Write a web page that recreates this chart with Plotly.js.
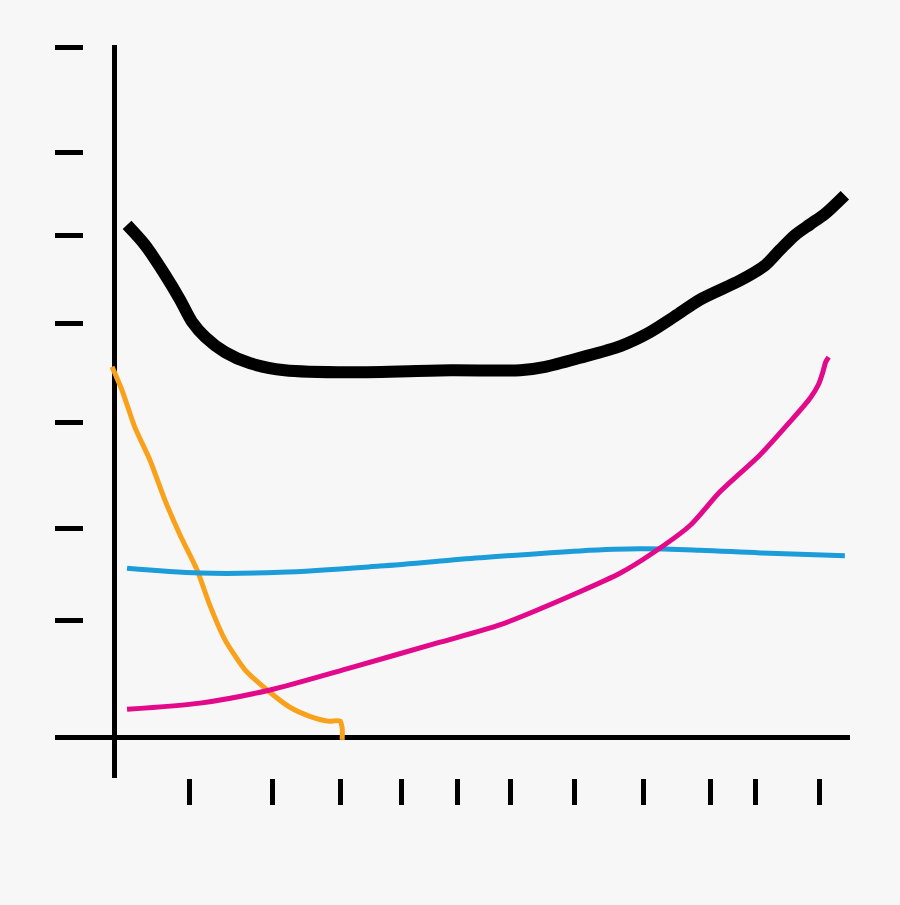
<!DOCTYPE html>
<html>
<head>
<meta charset="utf-8">
<script src="https://cdn.plot.ly/plotly-3.0.1.min.js"></script>
<style>
  html, body { margin: 0; padding: 0; background: #f7f7f7; }
  #chart { width: 900px; height: 905px; }
</style>
</head>
<body>
<div id="chart"></div>
<script>
// Thick black series
const blackX = [1.77, 4.21, 6.93, 8.97, 10.6, 12.4, 15.1, 18.5, 23.2, 32.1, 45.7, 55.2, 58.6, 63.3, 68.8, 72.8, 76.2, 79.6, 85.1, 88.5, 90.5, 92.5, 94.6, 96.6, 99.3];
const blackY = [74.0, 71.1, 66.8, 63.2, 60.0, 57.8, 55.6, 54.0, 53.0, 52.7, 53.0, 53.0, 53.5, 54.8, 56.5, 58.5, 60.8, 63.2, 66.0, 68.2, 70.4, 72.5, 74.1, 75.6, 78.3];

// Orange series
const orangeX = [-0.27, 1.09, 2.85, 4.89, 6.93, 8.97, 11.3, 13.0, 15.1, 17.8, 20.8, 23.9, 26.6, 29.1, 30.7, 31.0, 31.0];
const orangeY = [53.5, 50.1, 44.7, 40.0, 34.2, 29.2, 24.1, 19.1, 14.0, 9.7, 6.8, 4.3, 3.0, 2.3, 2.3, 1.3, -0.4];

// Blue series
const blueX = [1.77, 11.7, 22.6, 36.1, 49.7, 63.3, 71.5, 79.6, 87.8, 99.3];
const blueY = [24.4, 23.7, 23.8, 24.7, 25.9, 26.9, 27.2, 27.0, 26.6, 26.2];

// Pink series
const pinkX = [1.77, 11.7, 21.2, 32.1, 44.3, 52.4, 63.3, 68.8, 72.8, 78.3, 82.3, 87.8, 91.8, 94.6, 95.7, 96.3, 96.7, 97.1];
const pinkY = [4.0, 4.9, 6.8, 10.0, 13.7, 16.2, 21.0, 23.7, 26.3, 30.6, 35.4, 40.8, 45.5, 49.0, 50.9, 52.7, 54.2, 54.9];

// Tick positions (unlabelled, hand-placed in the sketch)
const xTickVals = [10.3, 21.5, 30.8, 39.1, 46.7, 53.9, 62.6, 71.9, 81.0, 87.1, 95.9];
const yTickVals = [99.7, 84.5, 72.5, 59.8, 45.5, 30.2, 16.9];

const traces = [
  {x: orangeX, y: orangeY, mode: 'lines', line: {color: '#F9A11B', width: 5, shape: 'spline', smoothing: 0.6}, hoverinfo: 'skip'},
  {x: blueX, y: blueY, mode: 'lines', line: {color: '#1C9CD8', width: 5, shape: 'spline'}, hoverinfo: 'skip'},
  {x: pinkX, y: pinkY, mode: 'lines', line: {color: '#E2098B', width: 5, shape: 'spline', smoothing: 0.7}, hoverinfo: 'skip'},
  {x: blackX, y: blackY, mode: 'lines', line: {color: '#000000', width: 12, shape: 'spline', smoothing: 0.8}, hoverinfo: 'skip'}
];

const layout = {
  width: 900, height: 905,
  paper_bgcolor: '#f7f7f7', plot_bgcolor: '#f7f7f7',
  margin: {l: 55, r: 50, t: 45, b: 127},
  showlegend: false,
  xaxis: {
    range: [-8.02, 100], showgrid: false, showline: false,
    zeroline: true, zerolinecolor: '#000', zerolinewidth: 5,
    tickmode: 'array', tickvals: xTickVals, showticklabels: false,
    ticks: 'outside', ticklen: 26, tickwidth: 5, tickcolor: '#000'
  },
  yaxis: {
    range: [-5.92, 100], showgrid: false, showline: false,
    zeroline: true, zerolinecolor: '#000', zerolinewidth: 5,
    tickmode: 'array', tickvals: yTickVals, showticklabels: false,
    ticks: 'inside', ticklen: 28, tickwidth: 5, tickcolor: '#000'
  }
};

Plotly.newPlot('chart', traces, layout, {displayModeBar: false, staticPlot: true});
</script>
</body>
</html>
